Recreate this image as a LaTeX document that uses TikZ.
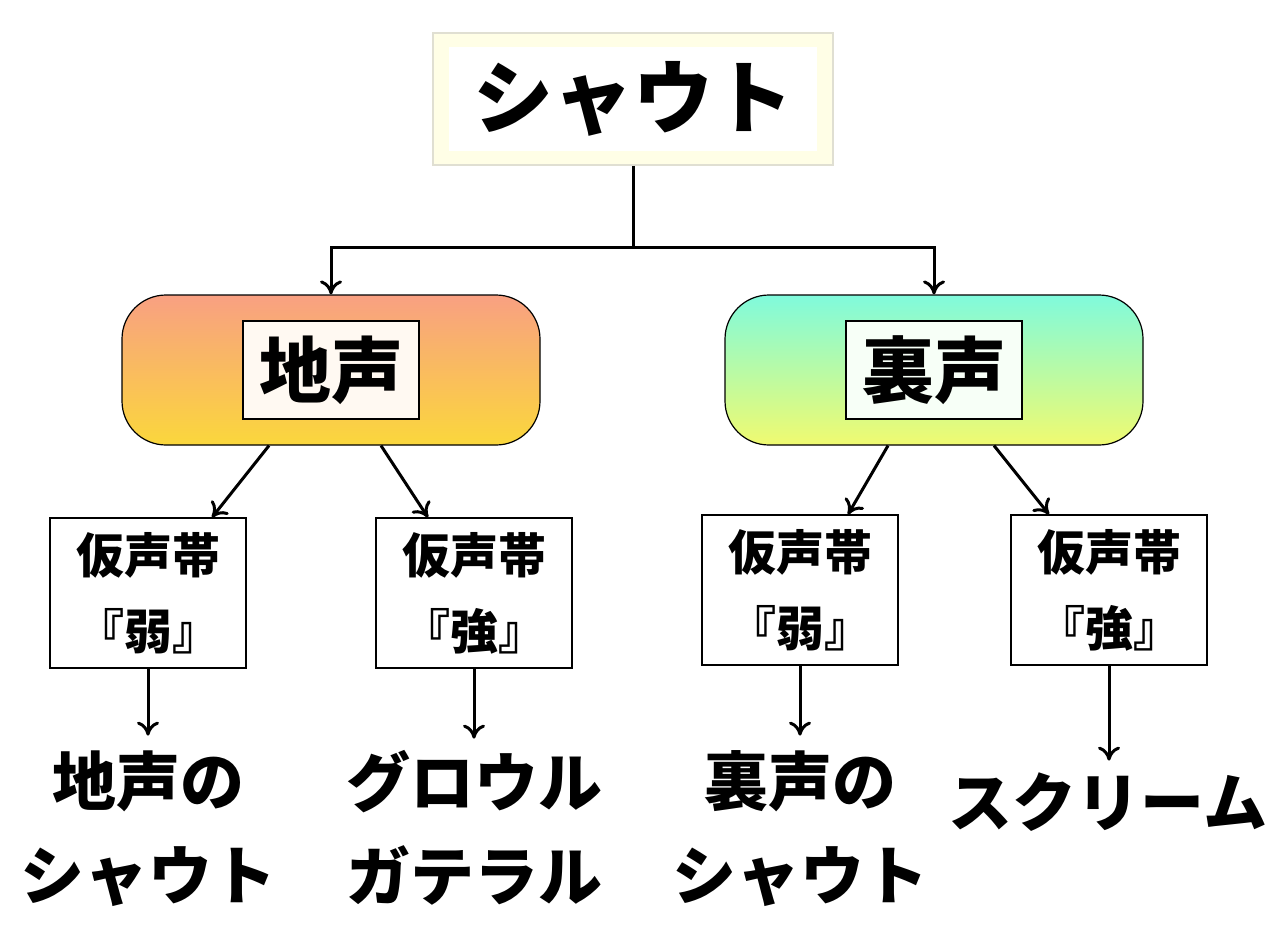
\documentclass[tikz,border=0pt]{standalone}
\usepackage{fontspec}
\newfontfamily\jp{Noto Sans CJK JP}
\usetikzlibrary{arrows.meta}
\definecolor{jitop}{RGB}{249,160,130}
\definecolor{jibot}{RGB}{250,215,60}
\definecolor{uratop}{RGB}{128,250,220}
\definecolor{urabot}{RGB}{240,250,112}
\tikzset{
  jbox/.style={draw, line width=.6pt, fill=white, inner sep=0pt, align=center},
  grp/.style={draw, line width=.6pt, rounded corners=22, inner sep=0pt},
  arr/.style={line width=1.5pt, -{To[length=7pt,width=11pt]}},
}
\begin{document}
\begin{tikzpicture}[x=0.5pt,y=-0.5pt]
    \useasboundingbox (0,0) rectangle (1288,942);
    % top
    \node[draw=yellow!30!black!20, line width=.8pt, fill=yellow!10!white, minimum width=200pt, minimum height=66pt] (TOP) at (633,99) {};
    \node[fill=white, minimum width=184pt, minimum height=52pt, font=\jp\bfseries\fontsize{40}{40}\selectfont] (SHOUT) at (633,99) {シャウト};
    % the two groups
    \node[grp, top color=jitop, bottom color=jibot, minimum width=209pt, minimum height=75pt] (JI) at (331,370) {};
    \node[jbox, fill=orange!5!white, minimum width=88pt, minimum height=49pt, font=\jp\bfseries\fontsize{36}{36}\selectfont] (JIT) at (331,370) {地声};
    \node[grp, top color=uratop, bottom color=urabot, minimum width=209pt, minimum height=75pt] (URA) at (934,370) {};
    \node[jbox, fill=green!3!white, minimum width=88pt, minimum height=49pt, font=\jp\bfseries\fontsize{36}{36}\selectfont] (URAT) at (934,370) {裏声};
    \coordinate (MID) at (633,247);
    \coordinate (ML) at (331,247);
    \coordinate (MR) at (934,247);
    \draw[line width=1.5pt] (TOP.south) -- (MID);
    \draw[arr] (MID) -- (ML) -- (JI.north);
    \draw[arr] (MID) -- (MR) -- (URA.north);
    % false vocal folds
    \tikzset{fvf/.style={jbox, minimum width=98pt, minimum height=75pt, font=\jp\bfseries\fontsize{24}{38}\selectfont}}
    \node[fvf] (W1) at (148,593) {仮声帯\\『弱』};
    \node[fvf] (S1) at (474,593) {仮声帯\\『強』};
    \node[fvf] (W2) at (800,590) {仮声帯\\『弱』};
    \node[fvf] (S2) at (1109,590) {仮声帯\\『強』};
    \draw[arr] ([xshift=-31pt]JI.south) -- ([xshift=32pt]W1.north);
    \draw[arr] ([xshift=25pt]JI.south) -- ([xshift=-23pt]S1.north);
    \draw[arr] ([xshift=-23pt]URA.south) -- ([xshift=24pt]W2.north);
    \draw[arr] ([xshift=30pt]URA.south) -- ([xshift=-30pt]S2.north);
    % results
    \tikzset{res/.style={align=center, inner sep=0pt, anchor=north, font=\jp\bfseries\fontsize{32}{47}\selectfont}}
    \node[res] (R1) at (148,750) {地声の\\シャウト};
    \node[res] (R2) at (474,750) {グロウル\\ガテラル};
    \node[res] (R3) at (800,750) {裏声の\\シャウト};
    \node[res] (R4) at (1108,772) {スクリーム};
    \draw[arr] (W1.south) -- ++(0,67);
    \draw[arr] (S1.south) -- ++(0,70);
    \draw[arr] (W2.south) -- ++(0,70);
    \draw[arr] (S2.south) -- ++(0,95);
\end{tikzpicture}
\end{document}
